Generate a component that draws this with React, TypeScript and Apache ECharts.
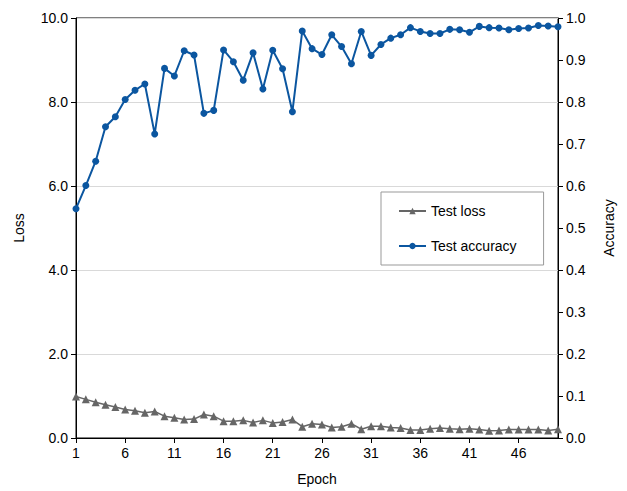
import React, { useEffect, useRef } from "react";
import * as echarts from "echarts";

const epochs: string[] = Array.from({ length: 50 }, (_, i) => String(i + 1));

const testLoss: number[] = [
  0.99, 0.92, 0.85, 0.79, 0.74, 0.68, 0.65, 0.6, 0.63, 0.52,
  0.48, 0.44, 0.45, 0.56, 0.52, 0.4, 0.4, 0.42, 0.37, 0.42,
  0.36, 0.38, 0.44, 0.27, 0.34, 0.32, 0.25, 0.27, 0.34, 0.21,
  0.28, 0.28, 0.25, 0.24, 0.19, 0.19, 0.22, 0.24, 0.22, 0.21,
  0.22, 0.2, 0.17, 0.18, 0.2, 0.2, 0.2, 0.2, 0.18, 0.21,
];

const testAccuracy: number[] = [
  0.546, 0.601, 0.659, 0.741, 0.765, 0.806, 0.828, 0.843, 0.724, 0.88,
  0.862, 0.922, 0.912, 0.773, 0.78, 0.924, 0.896, 0.852, 0.917, 0.831,
  0.923, 0.879, 0.777, 0.969, 0.927, 0.913, 0.96, 0.932, 0.891, 0.968,
  0.911, 0.937, 0.952, 0.96, 0.977, 0.968, 0.963, 0.963, 0.973, 0.972,
  0.966, 0.98, 0.977, 0.976, 0.972, 0.975, 0.976, 0.982, 0.981, 0.979,
];

const FONT = "Liberation Sans, Arial, sans-serif";

export default function App() {
  const ref = useRef<HTMLDivElement>(null);
  useEffect(() => {
    if (!ref.current) return;
    const chart = echarts.init(ref.current, null, { renderer: "svg" });
    chart.setOption({
      animation: false,
      backgroundColor: "#fff",
      textStyle: { fontFamily: FONT },
      grid: {
        left: 76,
        right: 69,
        top: 18,
        bottom: 52,
        show: true,
        borderColor: "#000",
        borderWidth: 1,
        backgroundColor: "transparent",
      },
      legend: {
        orient: "vertical",
        left: 381,
        top: 192,
        padding: [12, 27, 12, 17],
        itemGap: 21,
        itemWidth: 27,
        itemHeight: 8,
        borderColor: "#999",
        borderWidth: 1,
        borderRadius: 0,
        textStyle: { fontFamily: FONT, fontSize: 14, color: "#000" },
        data: ["Test loss", "Test accuracy"],
      },
      xAxis: {
        type: "category",
        data: epochs,
        boundaryGap: false,
        name: "Epoch",
        nameLocation: "middle",
        nameGap: 34,
        nameTextStyle: { fontFamily: FONT, fontSize: 14, color: "#000" },
        axisLine: { lineStyle: { color: "#000" } },
        axisTick: { interval: 4, length: 5, lineStyle: { color: "#000" } },
        axisLabel: { interval: 4, fontFamily: FONT, fontSize: 14, color: "#000", margin: 8 },
        splitLine: { show: false },
      },
      yAxis: [
        {
          type: "value",
          min: 0,
          max: 10,
          interval: 2,
          name: "Loss",
          nameLocation: "middle",
          nameGap: 50,
          nameTextStyle: { fontFamily: FONT, fontSize: 14, color: "#000" },
          axisLine: { show: true, lineStyle: { color: "#000" } },
          axisTick: { show: true, length: 5, lineStyle: { color: "#000" } },
          axisLabel: {
            fontFamily: FONT,
            fontSize: 14,
            color: "#000",
            margin: 8,
            formatter: (v: number) => v.toFixed(1),
          },
          splitLine: { show: true, lineStyle: { color: "#d9d9d9", width: 1 } },
        },
        {
          type: "value",
          min: 0,
          max: 1,
          interval: 0.1,
          name: "Accuracy",
          nameLocation: "middle",
          nameGap: 44,
          nameTextStyle: { fontFamily: FONT, fontSize: 14, color: "#000" },
          axisLine: { show: true, lineStyle: { color: "#000" } },
          axisTick: { show: true, length: 5, lineStyle: { color: "#000" } },
          axisLabel: {
            fontFamily: FONT,
            fontSize: 14,
            color: "#000",
            margin: 8,
            formatter: (v: number) => v.toFixed(1),
          },
          splitLine: { show: false },
        },
      ],
      series: [
        {
          name: "Test loss",
          type: "line",
          yAxisIndex: 0,
          data: testLoss,
          symbol: "triangle",
          symbolSize: 8,
          showAllSymbol: true,
          itemStyle: { color: "#666666" },
          lineStyle: { color: "#666666", width: 1.5 },
        },
        {
          name: "Test accuracy",
          type: "line",
          yAxisIndex: 1,
          data: testAccuracy,
          symbol: "circle",
          symbolSize: 7,
          showAllSymbol: true,
          itemStyle: { color: "#0b56a0" },
          lineStyle: { color: "#0b56a0", width: 2 },
        },
      ],
    });
    return () => chart.dispose();
  }, []);
  return (
    <div
      ref={ref}
      style={{ position: "absolute", left: 0, top: 0, width: 627, height: 491 }}
    />
  );
}
